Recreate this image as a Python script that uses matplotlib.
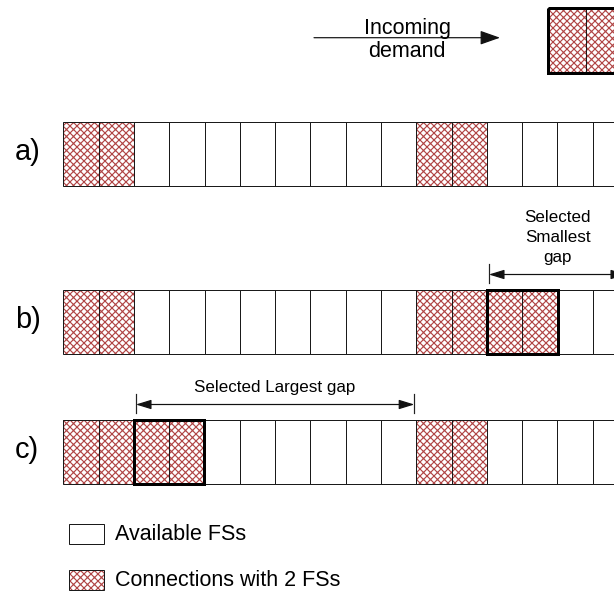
import matplotlib
matplotlib.use("Agg")
import matplotlib.pyplot as plt
from matplotlib.patches import Rectangle, FancyArrowPatch

plt.rcParams['font.family'] = ['Liberation Sans', 'DejaVu Sans']
plt.rcParams['hatch.linewidth'] = 1.0

# spectrum state (frequency slots, FSs)
N_SLOTS = 16
row_labels = ['a)', 'b)', 'c)']
occupied = [0, 1, 10, 11]            # slots held by existing 2-FS connections
selected = [[], [12, 13], [2, 3]]     # slots given to the new demand in each case
demand_slots = 2
gap_texts = [None, 'Selected\nSmallest\ngap', 'Selected Largest gap']
gap_spans = [None, (12, 16), (2, 10)]
legend_labels = ['Available FSs', 'Connections with 2 FSs']

# layout in pixels (figure drawn 1:1 in pixel coords)
DPI = 84
W_PX, H_PX = 614, 595
X0, SW, RH = 63.3, 35.3, 64
row_tops = [122, 290, 420]
HATCH_RED = '#b04545'
HATCH = 'xxxx'
PX = 72.0 / DPI   # points per pixel


def cell(ax, x, y, w, h, busy, lw=1.0):
    if busy:
        ax.add_patch(Rectangle((x, y), w, h, facecolor='white', edgecolor=HATCH_RED,
                               hatch=HATCH, linewidth=0, zorder=1))
    ax.add_patch(Rectangle((x, y), w, h, facecolor='none', edgecolor='#1a1a1a',
                           linewidth=lw * PX, zorder=2))


def arrow(ax, p0, p1, style, hl, hw):
    ax.add_patch(FancyArrowPatch(p0, p1, arrowstyle=f'{style},head_length={hl * PX},head_width={hw * PX}',
                                 mutation_scale=1, shrinkA=0, shrinkB=0, color='#111111',
                                 linewidth=1.2 * PX, zorder=3))


def main():
    fig = plt.figure(figsize=(W_PX / DPI, H_PX / DPI), dpi=DPI)
    ax = fig.add_axes([0, 0, 1, 1])
    ax.set_xlim(0, W_PX)
    ax.set_ylim(H_PX, 0)
    ax.axis('off')

    big = 21.5 * PX
    small = 17 * PX
    lab = 29 * PX

    # incoming demand
    dx, dy, dw, dh = 548, 8, 37.7, 64.7
    for k in range(demand_slots):
        cell(ax, dx + k * dw, dy, dw, dh, True)
    ax.add_patch(Rectangle((dx, dy), demand_slots * dw, dh, facecolor='none',
                           edgecolor='black', linewidth=3 * PX, zorder=4))
    arrow(ax, (314, 37.7), (500, 37.7), '-|>', 17, 6)
    ax.text(407, 34, 'Incoming', fontsize=big, ha='center', va='baseline')
    ax.text(407, 56.7, 'demand', fontsize=big, ha='center', va='baseline')

    for r, top in enumerate(row_tops):
        for s in range(N_SLOTS):
            busy = s in occupied or s in selected[r]
            cell(ax, X0 + s * SW, top, SW, RH, busy)
        if selected[r]:
            s0 = min(selected[r])
            ax.add_patch(Rectangle((X0 + s0 * SW, top), len(selected[r]) * SW, RH,
                                   facecolor='none', edgecolor='black',
                                   linewidth=3 * PX, zorder=4))
        ax.text(15, top + 38, row_labels[r], fontsize=lab, ha='left', va='baseline')

        if gap_spans[r]:
            a, b = gap_spans[r]
            xa, xb = X0 + a * SW + 2, X0 + b * SW - 2
            ya = top - 15.5
            arrow(ax, (xa, ya), (xb, ya), '<|-|>', 13, 4)
            for xv in (xa, xb):
                ax.plot([xv, xv], [top - 26, top - 7], color='#222222',
                        linewidth=1.2 * PX, zorder=3)
            lines = gap_texts[r].split('\n')
            xc = (xa + xb) / 2
            base = top - 28
            for i, line in enumerate(reversed(lines)):
                ax.text(xc, base - 20 * i, line, fontsize=small, ha='center', va='baseline')

    # legend
    leg_y = [524, 570]
    for i, text in enumerate(legend_labels):
        cell(ax, 68.7, leg_y[i], 35.6, 19.5, i == 1)
        ax.text(115, leg_y[i] + 16.5, text, fontsize=big, ha='left', va='baseline')

    fig.savefig('out.png', dpi=DPI)


if __name__ == '__main__':
    main()
